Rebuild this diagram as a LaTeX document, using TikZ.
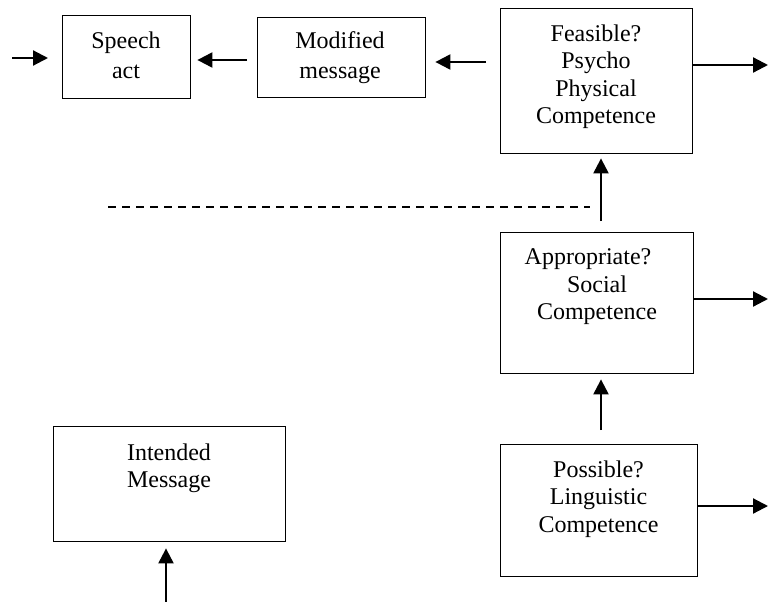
\documentclass[tikz,border=0pt]{standalone}
\usepackage{fontspec}
\setmainfont{Liberation Serif}
\usetikzlibrary{arrows.meta}

\begin{document}
\begin{tikzpicture}[x=1pt,y=-1pt,
  box/.style={draw,line width=1.4pt,inner sep=0pt,anchor=north west},
  txt/.style={inner sep=0pt,anchor=north,align=center,font=\fontsize{24}{27.5}\selectfont},
  txtwide/.style={txt,font=\fontsize{24}{30}\selectfont},
  arr/.style={line width=2.2pt,-{Triangle[length=15pt,width=15pt]}},
  sep/.style={line width=1.5pt,dash pattern=on 8pt off 6pt}]
  \useasboundingbox (0,0) rectangle (768,602);

  % boxes
  \node[box,minimum width=128pt,minimum height=83pt] (speech) at (62,15) {};
  \node[box,minimum width=168pt,minimum height=80pt] (modified) at (257,17) {};
  \node[box,minimum width=192pt,minimum height=145pt] (feas) at (500,8) {};
  \node[box,minimum width=193pt,minimum height=141pt] (appr) at (500,232) {};
  \node[box,minimum width=197pt,minimum height=132pt] (poss) at (500,444) {};
  \node[box,minimum width=232pt,minimum height=115pt] (intended) at (53,426) {};

  % box texts
  \node[txtwide] (speech-t) at (126,31.6) {Speech\\act};
  \node[txtwide] (modified-t) at (340,31.6) {Modified\\message};
  \node[txt] (feas-t) at (596,24.6) {Feasible?\\Psycho\\Physical\\Competence};
  \node[txt] (appr-t) at (597,248.6) {Appropriate?\hspace*{18pt}\\Social\\Competence};
  \node[txt] (poss-t) at (598.5,460.6) {Possible?\\Linguistic\\Competence};
  \node[txt] (intended-t) at (169,443.6) {Intended\\Message};

  % free ends
  \coordinate (inL) at (12,58);
  \coordinate (outA) at (768,65);
  \coordinate (outB) at (768,299);
  \coordinate (outC) at (768,506);
  \coordinate (inB) at (166,602);
  \coordinate (dashL) at (108,207);
  \coordinate (dashR) at (590,207);

  % connectors
  \draw[arr,shorten >=14pt] (inL) -- (speech.west |- inL);
  \draw[arr,shorten <=10pt,shorten >=6pt] (modified.west |- 0,60) -- (speech.east |- 0,60);
  \draw[arr,shorten <=14pt,shorten >=9pt] (feas.west |- 0,62) -- (modified.east |- 0,62);
  \draw[arr] (feas.east |- outA) -- (outA);
  \draw[arr] (appr.east |- outB) -- (outB);
  \draw[arr] (poss.east |- outC) -- (outC);
  \draw[arr,shorten <=11pt,shorten >=4pt] (appr.north -| 601,0) -- (feas.south -| 601,0);
  \draw[arr,shorten <=14pt,shorten >=5pt] (poss.north -| 601,0) -- (appr.south -| 601,0);
  \draw[arr,shorten >=6pt] (inB) -- (intended.south -| inB);

  % separator
  \draw[sep] (dashL) -- (dashR);
\end{tikzpicture}
\end{document}
